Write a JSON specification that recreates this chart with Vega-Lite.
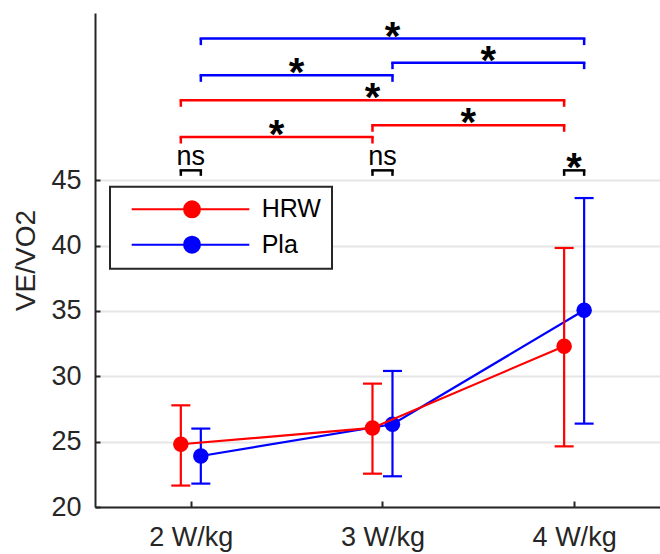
{
  "$schema": "https://vega.github.io/schema/vega-lite/v6.json",
  "width": 565,
  "height": 494,
  "autosize": {"type": "none"},
  "padding": {"left": 95, "top": 13, "right": 0, "bottom": 47},
  "background": "white",
  "config": {
    "view": {"stroke": null},
    "font": "Liberation Sans",
    "axis": {
      "domainColor": "#262626",
      "domainWidth": 2,
      "tickColor": "#262626",
      "tickWidth": 2,
      "labelColor": "#262626",
      "labelFont": "Liberation Sans",
      "labelFontSize": 27,
      "titleFont": "Liberation Sans",
      "titleColor": "#262626",
      "titleFontWeight": "normal",
      "titleFontSize": 28
    }
  },
  "datasets": {
    "stats": [
      {"series": "HRW", "load": 2, "mean": 24.8, "lo": 21.64, "hi": 27.78},
      {"series": "HRW", "load": 3, "mean": 26.05, "lo": 22.55, "hi": 29.44},
      {"series": "HRW", "load": 4, "mean": 32.3, "lo": 24.64, "hi": 39.82},
      {"series": "Pla", "load": 2, "mean": 23.9, "lo": 21.79, "hi": 26.0},
      {"series": "Pla", "load": 3, "mean": 26.33, "lo": 22.35, "hi": 30.41},
      {"series": "Pla", "load": 4, "mean": 35.05, "lo": 26.38, "hi": 43.64}
    ],
    "brackets": [
      {"series": "HRW", "from": 2, "to": 3, "mid": 2.5, "level": 48.31, "label": "*"},
      {"series": "HRW", "from": 3, "to": 4, "mid": 3.5, "level": 49.21, "label": "*"},
      {"series": "HRW", "from": 2, "to": 4, "mid": 3.0, "level": 51.12, "label": "*"},
      {"series": "Pla", "from": 2, "to": 3, "mid": 2.5, "level": 53.03, "label": "*"},
      {"series": "Pla", "from": 3, "to": 4, "mid": 3.5, "level": 54.0, "label": "*"},
      {"series": "Pla", "from": 2, "to": 4, "mid": 3.0, "level": 55.84, "label": "*"}
    ],
    "within": [
      {"load": 2, "level": 45.76, "label": "ns"},
      {"load": 3, "level": 45.76, "label": "ns"},
      {"load": 4, "level": 45.76, "label": "*"}
    ]
  },
  "layer": [
    {
      "data": {"name": "within"},
      "mark": {"type": "rule", "xOffset": -10, "x2Offset": 10, "color": "black", "strokeWidth": 2.5, "strokeCap": "square"},
      "encoding": {
        "x": {"field": "load", "type": "quantitative", "scale": {"domain": [1.5, 4.448], "nice": false, "zero": false},
              "axis": {"values": [2, 3, 4], "labelExpr": "datum.value + ' W/kg'", "title": null, "grid": false, "tickSize": -6, "labelPadding": 23}},
        "x2": {"field": "load"},
        "y": {"field": "level", "type": "quantitative", "scale": {"domain": [20, 57.8], "nice": false, "zero": false},
              "axis": {"values": [20, 25, 30, 35, 40, 45], "title": "VE/VO2", "grid": true, "gridColor": "#e6e6e6", "gridWidth": 2, "tickSize": -5, "labelPadding": 19, "titlePadding": 10}}
      }
    },
    {
      "data": {"name": "within"},
      "mark": {"type": "rule", "xOffset": -10, "y2Offset": 5.5, "color": "black", "strokeWidth": 2.5},
      "encoding": {
        "x": {"field": "load", "type": "quantitative", "scale": {"domain": [1.5, 4.448], "nice": false, "zero": false}},
        "y": {"field": "level", "type": "quantitative", "scale": {"domain": [20, 57.8], "nice": false, "zero": false}},
        "y2": {"field": "level"}
      }
    },
    {
      "data": {"name": "within"},
      "mark": {"type": "rule", "xOffset": 10, "y2Offset": 5.5, "color": "black", "strokeWidth": 2.5},
      "encoding": {
        "x": {"field": "load", "type": "quantitative", "scale": {"domain": [1.5, 4.448], "nice": false, "zero": false}},
        "y": {"field": "level", "type": "quantitative", "scale": {"domain": [20, 57.8], "nice": false, "zero": false}},
        "y2": {"field": "level"}
      }
    },
    {
      "data": {"name": "within"},
      "transform": [{"filter": "datum.label == 'ns'"}],
      "mark": {"type": "text", "baseline": "alphabetic", "align": "center", "dy": -5, "fontSize": 27, "color": "black", "font": "Liberation Sans"},
      "encoding": {
        "x": {"field": "load", "type": "quantitative", "scale": {"domain": [1.5, 4.448], "nice": false, "zero": false}},
        "y": {"field": "level", "type": "quantitative", "scale": {"domain": [20, 57.8], "nice": false, "zero": false}},
        "text": {"field": "label"}
      }
    },
    {
      "data": {"name": "within"},
      "transform": [{"filter": "datum.label == '*'"}],
      "mark": {"type": "text", "baseline": "alphabetic", "align": "center", "dy": 11, "fontSize": 40, "fontWeight": "bold", "color": "black", "font": "Liberation Sans"},
      "encoding": {
        "x": {"field": "load", "type": "quantitative", "scale": {"domain": [1.5, 4.448], "nice": false, "zero": false}},
        "y": {"field": "level", "type": "quantitative", "scale": {"domain": [20, 57.8], "nice": false, "zero": false}},
        "text": {"field": "label"}
      }
    },
    {
      "data": {"name": "brackets"},
      "transform": [{"filter": "datum.series == 'HRW'"}],
      "mark": {"type": "rule", "xOffset": -10, "x2Offset": -10, "color": "#ff0000", "strokeWidth": 2.5, "strokeCap": "square"},
      "encoding": {
        "x": {"field": "from", "type": "quantitative", "scale": {"domain": [1.5, 4.448], "nice": false, "zero": false}},
        "x2": {"field": "to"},
        "y": {"field": "level", "type": "quantitative", "scale": {"domain": [20, 57.8], "nice": false, "zero": false}}
      }
    },
    {
      "data": {"name": "brackets"},
      "transform": [{"filter": "datum.series == 'HRW'"}],
      "mark": {"type": "rule", "xOffset": -10, "y2Offset": 6.5, "color": "#ff0000", "strokeWidth": 2.5},
      "encoding": {
        "x": {"field": "from", "type": "quantitative", "scale": {"domain": [1.5, 4.448], "nice": false, "zero": false}},
        "y": {"field": "level", "type": "quantitative", "scale": {"domain": [20, 57.8], "nice": false, "zero": false}},
        "y2": {"field": "level"}
      }
    },
    {
      "data": {"name": "brackets"},
      "transform": [{"filter": "datum.series == 'HRW'"}],
      "mark": {"type": "rule", "xOffset": -10, "y2Offset": 6.5, "color": "#ff0000", "strokeWidth": 2.5},
      "encoding": {
        "x": {"field": "to", "type": "quantitative", "scale": {"domain": [1.5, 4.448], "nice": false, "zero": false}},
        "y": {"field": "level", "type": "quantitative", "scale": {"domain": [20, 57.8], "nice": false, "zero": false}},
        "y2": {"field": "level"}
      }
    },
    {
      "data": {"name": "brackets"},
      "transform": [{"filter": "datum.series == 'HRW'"}],
      "mark": {"type": "text", "baseline": "alphabetic", "align": "center", "xOffset": -10, "dy": 11, "fontSize": 40, "fontWeight": "bold", "color": "black", "font": "Liberation Sans"},
      "encoding": {
        "x": {"field": "mid", "type": "quantitative", "scale": {"domain": [1.5, 4.448], "nice": false, "zero": false}},
        "y": {"field": "level", "type": "quantitative", "scale": {"domain": [20, 57.8], "nice": false, "zero": false}},
        "text": {"field": "label"}
      }
    },
    {
      "data": {"name": "brackets"},
      "transform": [{"filter": "datum.series == 'Pla'"}],
      "mark": {"type": "rule", "xOffset": 10, "x2Offset": 10, "color": "#0000ff", "strokeWidth": 2.5, "strokeCap": "square"},
      "encoding": {
        "x": {"field": "from", "type": "quantitative", "scale": {"domain": [1.5, 4.448], "nice": false, "zero": false}},
        "x2": {"field": "to"},
        "y": {"field": "level", "type": "quantitative", "scale": {"domain": [20, 57.8], "nice": false, "zero": false}}
      }
    },
    {
      "data": {"name": "brackets"},
      "transform": [{"filter": "datum.series == 'Pla'"}],
      "mark": {"type": "rule", "xOffset": 10, "y2Offset": 6.5, "color": "#0000ff", "strokeWidth": 2.5},
      "encoding": {
        "x": {"field": "from", "type": "quantitative", "scale": {"domain": [1.5, 4.448], "nice": false, "zero": false}},
        "y": {"field": "level", "type": "quantitative", "scale": {"domain": [20, 57.8], "nice": false, "zero": false}},
        "y2": {"field": "level"}
      }
    },
    {
      "data": {"name": "brackets"},
      "transform": [{"filter": "datum.series == 'Pla'"}],
      "mark": {"type": "rule", "xOffset": 10, "y2Offset": 6.5, "color": "#0000ff", "strokeWidth": 2.5},
      "encoding": {
        "x": {"field": "to", "type": "quantitative", "scale": {"domain": [1.5, 4.448], "nice": false, "zero": false}},
        "y": {"field": "level", "type": "quantitative", "scale": {"domain": [20, 57.8], "nice": false, "zero": false}},
        "y2": {"field": "level"}
      }
    },
    {
      "data": {"name": "brackets"},
      "transform": [{"filter": "datum.series == 'Pla'"}],
      "mark": {"type": "text", "baseline": "alphabetic", "align": "center", "xOffset": 10, "dy": 11, "fontSize": 40, "fontWeight": "bold", "color": "black", "font": "Liberation Sans"},
      "encoding": {
        "x": {"field": "mid", "type": "quantitative", "scale": {"domain": [1.5, 4.448], "nice": false, "zero": false}},
        "y": {"field": "level", "type": "quantitative", "scale": {"domain": [20, 57.8], "nice": false, "zero": false}},
        "text": {"field": "label"}
      }
    },
    {
      "data": {"name": "stats"},
      "transform": [{"filter": "datum.series == 'Pla'"}],
      "mark": {"type": "rule", "xOffset": 10, "color": "#0000ff", "strokeWidth": 2.2},
      "encoding": {
        "x": {"field": "load", "type": "quantitative", "scale": {"domain": [1.5, 4.448], "nice": false, "zero": false}},
        "y": {"field": "lo", "type": "quantitative", "scale": {"domain": [20, 57.8], "nice": false, "zero": false}},
        "y2": {"field": "hi"}
      }
    },
    {
      "data": {"name": "stats"},
      "transform": [{"filter": "datum.series == 'Pla'"}],
      "mark": {"type": "tick", "orient": "horizontal", "xOffset": 10, "color": "#0000ff", "size": 19, "thickness": 2.2, "opacity": 1},
      "encoding": {
        "x": {"field": "load", "type": "quantitative", "scale": {"domain": [1.5, 4.448], "nice": false, "zero": false}},
        "y": {"field": "lo", "type": "quantitative", "scale": {"domain": [20, 57.8], "nice": false, "zero": false}}
      }
    },
    {
      "data": {"name": "stats"},
      "transform": [{"filter": "datum.series == 'Pla'"}],
      "mark": {"type": "tick", "orient": "horizontal", "xOffset": 10, "color": "#0000ff", "size": 19, "thickness": 2.2, "opacity": 1},
      "encoding": {
        "x": {"field": "load", "type": "quantitative", "scale": {"domain": [1.5, 4.448], "nice": false, "zero": false}},
        "y": {"field": "hi", "type": "quantitative", "scale": {"domain": [20, 57.8], "nice": false, "zero": false}}
      }
    },
    {
      "data": {"name": "stats"},
      "transform": [{"filter": "datum.series == 'Pla'"}],
      "mark": {"type": "line", "xOffset": 10, "color": "#0000ff", "strokeWidth": 2.2},
      "encoding": {
        "x": {"field": "load", "type": "quantitative", "scale": {"domain": [1.5, 4.448], "nice": false, "zero": false}},
        "y": {"field": "mean", "type": "quantitative", "scale": {"domain": [20, 57.8], "nice": false, "zero": false}}
      }
    },
    {
      "data": {"name": "stats"},
      "transform": [{"filter": "datum.series == 'Pla'"}],
      "mark": {"type": "point", "shape": "circle", "filled": true, "size": 240, "opacity": 1, "xOffset": 10},
      "encoding": {
        "x": {"field": "load", "type": "quantitative", "scale": {"domain": [1.5, 4.448], "nice": false, "zero": false}},
        "y": {"field": "mean", "type": "quantitative", "scale": {"domain": [20, 57.8], "nice": false, "zero": false}},
        "color": {"field": "series", "type": "nominal", "scale": {"domain": ["HRW", "Pla"], "range": ["#ff0000", "#0000ff"]},
                  "legend": {"orient": "none", "legendX": 15, "legendY": 173.7, "title": null,
                             "symbolType": "M-0.84,0H1.02M0.24,0A0.126,0.126,0,1,1,-0.012,0A0.126,0.126,0,1,1,0.24,0Z",
                             "symbolSize": 16000, "symbolStrokeWidth": 2, "symbolOpacity": 1,
                             "labelFontSize": 25, "labelColor": "black", "labelFont": "Liberation Sans", "labelOffset": 12.4,
                             "padding": 10.3, "strokeColor": "#262626", "fillColor": "white",
                             "clipHeight": 24.6, "rowPadding": 9.4,
                             "encode": {
                               "symbols": {"update": {"stroke": {"scale": "color", "field": "value"}, "fill": {"scale": "color", "field": "value"}, "strokeWidth": {"value": 2}}},
                               "legend": {"update": {"strokeWidth": {"value": 2}}}
                             }}}
      }
    },
    {
      "data": {"name": "stats"},
      "transform": [{"filter": "datum.series == 'HRW'"}],
      "mark": {"type": "rule", "xOffset": -10, "color": "#ff0000", "strokeWidth": 2.2},
      "encoding": {
        "x": {"field": "load", "type": "quantitative", "scale": {"domain": [1.5, 4.448], "nice": false, "zero": false}},
        "y": {"field": "lo", "type": "quantitative", "scale": {"domain": [20, 57.8], "nice": false, "zero": false}},
        "y2": {"field": "hi"}
      }
    },
    {
      "data": {"name": "stats"},
      "transform": [{"filter": "datum.series == 'HRW'"}],
      "mark": {"type": "tick", "orient": "horizontal", "xOffset": -10, "color": "#ff0000", "size": 19, "thickness": 2.2, "opacity": 1},
      "encoding": {
        "x": {"field": "load", "type": "quantitative", "scale": {"domain": [1.5, 4.448], "nice": false, "zero": false}},
        "y": {"field": "lo", "type": "quantitative", "scale": {"domain": [20, 57.8], "nice": false, "zero": false}}
      }
    },
    {
      "data": {"name": "stats"},
      "transform": [{"filter": "datum.series == 'HRW'"}],
      "mark": {"type": "tick", "orient": "horizontal", "xOffset": -10, "color": "#ff0000", "size": 19, "thickness": 2.2, "opacity": 1},
      "encoding": {
        "x": {"field": "load", "type": "quantitative", "scale": {"domain": [1.5, 4.448], "nice": false, "zero": false}},
        "y": {"field": "hi", "type": "quantitative", "scale": {"domain": [20, 57.8], "nice": false, "zero": false}}
      }
    },
    {
      "data": {"name": "stats"},
      "transform": [{"filter": "datum.series == 'HRW'"}],
      "mark": {"type": "line", "xOffset": -10, "color": "#ff0000", "strokeWidth": 2.2},
      "encoding": {
        "x": {"field": "load", "type": "quantitative", "scale": {"domain": [1.5, 4.448], "nice": false, "zero": false}},
        "y": {"field": "mean", "type": "quantitative", "scale": {"domain": [20, 57.8], "nice": false, "zero": false}}
      }
    },
    {
      "data": {"name": "stats"},
      "transform": [{"filter": "datum.series == 'HRW'"}],
      "mark": {"type": "point", "shape": "circle", "filled": true, "size": 240, "opacity": 1, "xOffset": -10},
      "encoding": {
        "x": {"field": "load", "type": "quantitative", "scale": {"domain": [1.5, 4.448], "nice": false, "zero": false}},
        "y": {"field": "mean", "type": "quantitative", "scale": {"domain": [20, 57.8], "nice": false, "zero": false}},
        "color": {"field": "series", "type": "nominal", "scale": {"domain": ["HRW", "Pla"], "range": ["#ff0000", "#0000ff"]}}
      }
    }
  ]
}
